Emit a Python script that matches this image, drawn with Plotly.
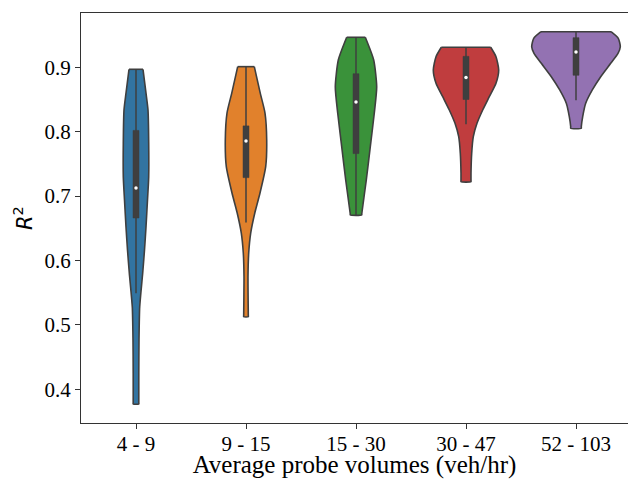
import plotly.graph_objects as go

categories = ["4 - 9", "9 - 15", "15 - 30", "30 - 47", "52 - 103"]
colors = ["#3274a1", "#e1812c", "#3a923a", "#c03d3e", "#9372b2"]

# violin outlines: R2 level (top -> bottom) and relative half-width (density)
v1_y = [0.8969, 0.860, 0.8337, 0.7825, 0.7297, 0.694, 0.652, 0.6163, 0.5806, 0.5278, 0.4765, 0.4253, 0.3795, 0.3772]
v1_w = [7.0, 10.0, 12.0, 12.7, 12.7, 11.5, 10.0, 8.5, 6.7, 3.7, 3.0, 2.8, 2.8, 2.8]
v2_y = [0.901, 0.8596, 0.829, 0.7871, 0.7457, 0.7048, 0.6738, 0.6427, 0.6117, 0.5754, 0.515, 0.5127]
v2_w = [8.3, 14.3, 19.0, 20.7, 19.7, 14.0, 8.8, 4.7, 2.7, 2.0, 2.3, 2.3]
v3_y = [0.9466, 0.9113, 0.8699, 0.829, 0.7767, 0.725, 0.673, 0.6707]
v3_w = [9.3, 17.7, 20.7, 18.3, 14.3, 10.3, 5.8, 5.7]
v4_y = [0.9311, 0.9165, 0.8958, 0.8752, 0.8543, 0.8337, 0.813, 0.7922, 0.7665, 0.7354, 0.7247, 0.7224]
v4_w = [24.7, 30.0, 32.7, 30.0, 23.3, 16.7, 11.0, 7.3, 5.7, 5.0, 5.0, 5.0]
v5_y = [0.9553, 0.945, 0.932, 0.9217, 0.9062, 0.8854, 0.8648, 0.8441, 0.8233, 0.8076, 0.8053]
v5_w = [35.0, 42.3, 44.3, 42.0, 34.7, 24.7, 16.3, 9.7, 6.7, 5.3, 5.3]

# box statistics
q1 = [0.666, 0.7287, 0.766, 0.850, 0.8876]
median = [0.7126, 0.7856, 0.846, 0.884, 0.9238]
q3 = [0.802, 0.809, 0.890, 0.917, 0.946]
whisk_lo = [0.549, 0.659, 0.6707, 0.8115, 0.8488]
whisk_hi = [0.8969, 0.901, 0.9466, 0.9311, 0.9553]

violins_y = [v1_y, v2_y, v3_y, v4_y, v5_y]
violins_w = [v1_w, v2_w, v3_w, v4_w, v5_w]

PX_PER_CAT = 110.0
BOX_HALF = 3.0 / PX_PER_CAT
EDGE = "#3f3f3f"
SERIF = "Liberation Serif, Times New Roman, serif"

fig = go.Figure()
for i, (ys, ws) in enumerate(zip(violins_y, violins_w)):
    hw = [w / PX_PER_CAT for w in ws]
    # open path: right-top -> right-bottom -> left-bottom -> left-top (fill closes along the top edge)
    xs = [i + h for h in hw] + [i - h for h in reversed(hw)]
    yy = list(ys) + list(reversed(ys))
    fig.add_trace(go.Scatter(x=xs, y=yy, mode="lines", fill="toself",
                             fillcolor=colors[i],
                             line=dict(color=EDGE, width=1.6, shape="spline", smoothing=0.6),
                             hoverinfo="skip", showlegend=False))
    # top edge of the violin
    fig.add_trace(go.Scatter(x=[i - hw[0], i + hw[0]], y=[ys[0], ys[0]], mode="lines",
                             line=dict(color=EDGE, width=1.6), showlegend=False, hoverinfo="skip"))
    # whisker
    fig.add_trace(go.Scatter(x=[i, i], y=[whisk_lo[i], whisk_hi[i]], mode="lines",
                             line=dict(color=EDGE, width=1.5), showlegend=False, hoverinfo="skip"))
    # box
    fig.add_trace(go.Scatter(x=[i - BOX_HALF, i + BOX_HALF, i + BOX_HALF, i - BOX_HALF, i - BOX_HALF],
                             y=[q1[i], q1[i], q3[i], q3[i], q1[i]], mode="lines", fill="toself",
                             fillcolor=EDGE, line=dict(color=EDGE, width=0.5),
                             showlegend=False, hoverinfo="skip"))
    # median
    fig.add_trace(go.Scatter(x=[i], y=[median[i]], mode="markers",
                             marker=dict(color="white", size=3.5, line=dict(width=0)),
                             showlegend=False, hoverinfo="skip"))

fig.update_layout(
    width=628, height=479,
    margin=dict(l=81, r=0, t=13, b=56),
    plot_bgcolor="white", paper_bgcolor="white",
    font=dict(family=SERIF, size=21, color="black"),
)
fig.update_xaxes(
    range=[-0.5, -0.5 + 547 / PX_PER_CAT], automargin=False,
    tickmode="array", tickvals=list(range(len(categories))), ticktext=categories,
    showgrid=False, zeroline=False,
    showline=True, linecolor="#333333", linewidth=1.2, mirror=True,
    ticks="outside", ticklen=5, tickcolor="#333333", tickwidth=1,
    ticklabelstandoff=-3,
    tickfont=dict(family=SERIF, size=21, color="black"),
    title=dict(text="Average probe volumes (veh/hr)", font=dict(family=SERIF, size=25, color="black"), standoff=3),
)
fig.update_yaxes(
    range=[0.3477, 0.9843], automargin=False,
    tickvals=[0.4, 0.5, 0.6, 0.7, 0.8, 0.9], ticktext=["0.4", "0.5", "0.6", "0.7", "0.8", "0.9"],
    showgrid=False, zeroline=False,
    showline=True, linecolor="#333333", linewidth=1.2, mirror=False,
    ticks="outside", ticklen=5, tickcolor="#333333", tickwidth=1,
    tickfont=dict(family=SERIF, size=21, color="black"),
    title=dict(text="<i>R</i><sup>2</sup>", font=dict(family="DejaVu Sans", size=21, color="black"), standoff=6),
)

fig.write_html("out.html", config={"displayModeBar": False},
               post_script="document.body.style.margin='0';document.body.style.overflow='hidden';")
